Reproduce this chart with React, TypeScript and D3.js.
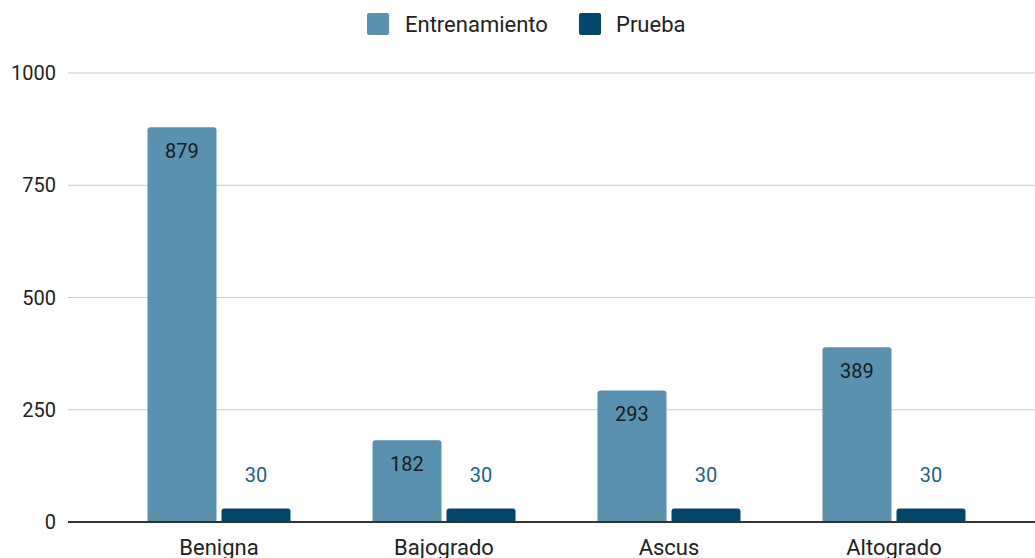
import React from "react";
import * as d3 from "d3";

const categories = ["Benigna", "Bajogrado", "Ascus", "Altogrado"];
const seriesNames = ["Entrenamiento", "Prueba"];
const entrenamiento = [879, 182, 293, 389];
const prueba = [30, 30, 30, 30];
const yTicks = [0, 250, 500, 750, 1000];

const W = 1035;
const H = 558;
const colors = ["#5a91af", "#02476a"];
const font = "Roboto, 'Noto Sans', sans-serif";
const numSize = 20;
const wordSize = 22;

function topRounded(x: number, y: number, w: number, h: number, r: number) {
  const rr = Math.min(r, h, w / 2);
  return `M${x},${y + h}V${y + rr}Q${x},${y} ${x + rr},${y}H${x + w - rr}Q${x + w},${y} ${x + w},${y + rr}V${y + h}Z`;
}

export default function App() {
  const y = d3.scaleLinear().domain([0, 1000]).range([522, 73]);
  const x0 = d3
    .scaleBand<string>()
    .domain(categories)
    .range([106.5, 1006.5])
    .paddingInner(0.3644)
    .paddingOuter(0.1822);
  const x1 = d3
    .scaleBand<string>()
    .domain(seriesNames)
    .range([0, x0.bandwidth()])
    .paddingInner(0.0676)
    .paddingOuter(0);
  const data = [entrenamiento, prueba];

  return (
    <svg
      width={W}
      height={H}
      style={{ position: "absolute", left: 0, top: 0, display: "block", background: "#fff" }}
      fontFamily={font}
    >
      {/* legend */}
      <g>
        <rect x={367} y={13} width={22} height={22} rx={2} fill={colors[0]} />
        <text x={405} y={24} dy="0.35em" fontSize={wordSize} fill="#222">{seriesNames[0]}</text>
        <rect x={579} y={13} width={22} height={22} rx={2} fill={colors[1]} />
        <text x={616} y={24} dy="0.35em" fontSize={wordSize} fill="#222">{seriesNames[1]}</text>
      </g>
      {/* gridlines */}
      {yTicks.filter((t) => t !== 0).map((t) => (
        <line key={t} x1={68} x2={W} y1={y(t)} y2={y(t)} stroke="#cccccc" strokeWidth={1} />
      ))}
      {yTicks.map((t) => (
        <text key={"l" + t} x={56} y={y(t)} dy="0.35em" textAnchor="end" fontSize={numSize} fill="#222">
          {t}
        </text>
      ))}
      {/* bars */}
      {categories.map((c, i) => (
        <g key={c} transform={`translate(${x0(c)},0)`}>
          {seriesNames.map((s, j) => {
            const v = data[j][i];
            const bx = x1(s)!;
            const bw = x1.bandwidth();
            const top = y(v);
            return (
              <g key={s}>
                <path d={topRounded(bx, top, bw, y(0) - top, 3)} fill={colors[j]} />
                {j === 0 ? (
                  <text x={bx + bw / 2} y={top + 24} dy="0.35em" textAnchor="middle" fontSize={numSize} fill="#1a1a1a">
                    {v}
                  </text>
                ) : (
                  <text x={bx + bw / 2} y={top - 34} dy="0.35em" textAnchor="middle" fontSize={numSize} fill="#1e6384">
                    {v}
                  </text>
                )}
              </g>
            );
          })}
          <text x={x0.bandwidth() / 2} y={547} dy="0.35em" textAnchor="middle" fontSize={wordSize} fill="#222">
            {c}
          </text>
        </g>
      ))}
      {/* baseline */}
      <line x1={68} x2={W} y1={y(0)} y2={y(0)} stroke="#333333" strokeWidth={2} />
    </svg>
  );
}
